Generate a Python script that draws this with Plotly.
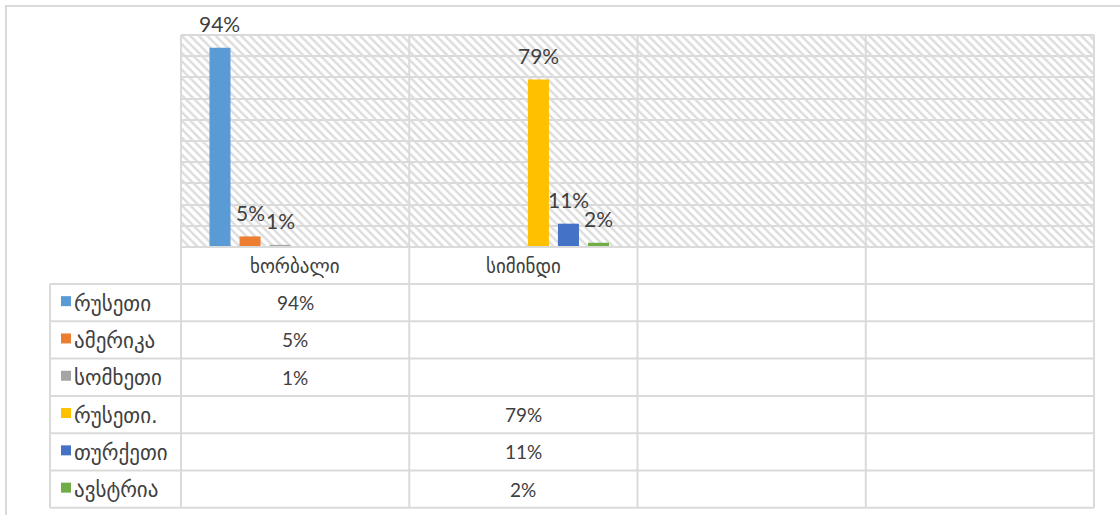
import plotly.graph_objects as go

# ---------------- data ----------------
categories = ["ხორბალი", "სიმინდი", "", ""]
series_names = ["რუსეთი", "ამერიკა", "სომხეთი", "რუსეთი.", "თურქეთი", "ავსტრია"]
russia_wheat = [94, None, None, None]
usa_wheat = [5, None, None, None]
armenia_wheat = [1, None, None, None]
russia_corn = [None, 79, None, None]
turkey_corn = [None, 11, None, None]
austria_corn = [None, 2, None, None]
series_values = [russia_wheat, usa_wheat, armenia_wheat,
                 russia_corn, turkey_corn, austria_corn]
series_colors = ["#5B9BD5", "#ED7D31", "#A5A5A5", "#FFC000", "#4472C4", "#70AD47"]

# ---------------- layout geometry (pixels) ----------------
W, H = 1120, 515
L, R, T, B = 181, 26, 35, 268          # plot area: x 181..1094, y 35..247
PW = W - L - R
PH = H - T - B
BARGAP, GROUPGAP = 0.21, 0.30
GRID = "#DADADA"
TXT = "#404040"
FONT = "Lato, 'DejaVu Sans', sans-serif"
GEO_FONT = "'DejaVu Sans', sans-serif"
HEADER_H = 37.0
ROW_H = 37.3
LEG_LEFT = 50


def px_x(px):
    return (px - L) / PW


def px_y(py):
    return (H - B - py) / PH


n_cat = len(categories)
n_ser = len(series_values)
xs = list(range(n_cat))

fig = go.Figure()

# hatched plot-area background (one full-width tile per category), on the base axis
fig.add_trace(go.Bar(
    x=xs, y=[100] * n_cat, width=[1] * n_cat, xaxis="x", yaxis="y",
    marker=dict(color="#DCDCDC", line=dict(width=0),
                pattern=dict(shape="\\", fillmode="replace", size=6, solidity=0.4)),
    hoverinfo="skip", showlegend=False,
))

# data bars on an overlaying x axis so they group among themselves only
for name, vals, col in zip(series_names, series_values, series_colors):
    fig.add_trace(go.Bar(
        x=xs, y=vals, name=name, xaxis="x2", yaxis="y",
        marker=dict(color=col, line=dict(width=0)), showlegend=False,
    ))

# data labels above bars
slot = (1 - BARGAP) / n_ser
for i, vals in enumerate(series_values):
    for j, v in enumerate(vals):
        if v is None:
            continue
        xpos = j - (1 - BARGAP) / 2 + (i + 0.5) * slot
        fig.add_annotation(x=xpos, y=v, xref="x2", yref="y", text=f"{v}%",
                           showarrow=False, yanchor="middle", yshift=24,
                           font=dict(family=FONT, size=21, color=TXT))

shapes = []
line = dict(color=GRID, width=2)
table_bottom = H - B + HEADER_H + ROW_H * n_ser
# vertical column lines (plot + table)
for k in range(n_cat + 1):
    shapes.append(dict(type="line", xref="paper", yref="paper",
                       x0=k / n_cat, x1=k / n_cat, y0=1, y1=px_y(table_bottom), line=line))
# legend column left edge
shapes.append(dict(type="line", xref="paper", yref="paper",
                   x0=px_x(LEG_LEFT), x1=px_x(LEG_LEFT),
                   y0=px_y(H - B + HEADER_H), y1=px_y(table_bottom), line=line))
# plot top and axis line
for yy in (0, 1):
    shapes.append(dict(type="line", xref="paper", yref="paper",
                       x0=0, x1=1, y0=yy, y1=yy, line=line))
# table row lines
for k in range(n_ser + 1):
    py = H - B + HEADER_H + k * ROW_H
    shapes.append(dict(type="line", xref="paper", yref="paper",
                       x0=px_x(LEG_LEFT), x1=1, y0=px_y(py), y1=px_y(py), line=line))
# outer chart border
shapes.append(dict(type="rect", xref="paper", yref="paper",
                   x0=px_x(6), x1=px_x(1140), y0=px_y(6), y1=px_y(540),
                   line=dict(color=GRID, width=2), fillcolor="rgba(0,0,0,0)"))

# header row: category names
for j, c in enumerate(categories):
    if not c:
        continue
    fig.add_annotation(x=(j + 0.5) / n_cat, y=px_y(H - B + HEADER_H / 2 + 1),
                       xref="paper", yref="paper", text=c, showarrow=False,
                       xanchor="center", yanchor="middle",
                       font=dict(family=GEO_FONT, size=19, color=TXT))

# data rows
for i, (name, vals, col) in enumerate(zip(series_names, series_values, series_colors)):
    cy = H - B + HEADER_H + (i + 0.5) * ROW_H
    shapes.append(dict(type="rect", xref="paper", yref="paper",
                       x0=px_x(61), x1=px_x(71), y0=px_y(cy - 6.5), y1=px_y(cy + 3.5),
                       line=dict(width=0), fillcolor=col))
    fig.add_annotation(x=px_x(72), y=px_y(cy + 1), xref="paper", yref="paper",
                       text=name, showarrow=False, xanchor="left", yanchor="middle",
                       font=dict(family=GEO_FONT, size=21, color=TXT))
    for j, v in enumerate(vals):
        if v is None:
            continue
        fig.add_annotation(x=(j + 0.5) / n_cat, y=px_y(cy), xref="paper", yref="paper",
                           text=f"{v}%", showarrow=False, xanchor="center", yanchor="middle",
                           font=dict(family=FONT, size=19, color=TXT))

axis_common = dict(range=[-0.5, n_cat - 0.5], showticklabels=False, showgrid=False,
                   zeroline=False, ticks="", showline=False)
fig.update_layout(
    width=W, height=H, margin=dict(l=L, r=R, t=T, b=B, pad=0),
    paper_bgcolor="white", plot_bgcolor="white",
    barmode="group", bargap=BARGAP, bargroupgap=GROUPGAP,
    showlegend=False, shapes=shapes,
    xaxis=dict(**axis_common),
    xaxis2=dict(**axis_common, overlaying="x", matches="x"),
    yaxis=dict(range=[0, 100], dtick=10, showticklabels=False, showgrid=True,
               gridcolor=GRID, gridwidth=2, zeroline=False, ticks="", showline=False),
)

fig.write_html("out.html", config={"displayModeBar": False},
               post_script="document.body.style.margin='0';")
